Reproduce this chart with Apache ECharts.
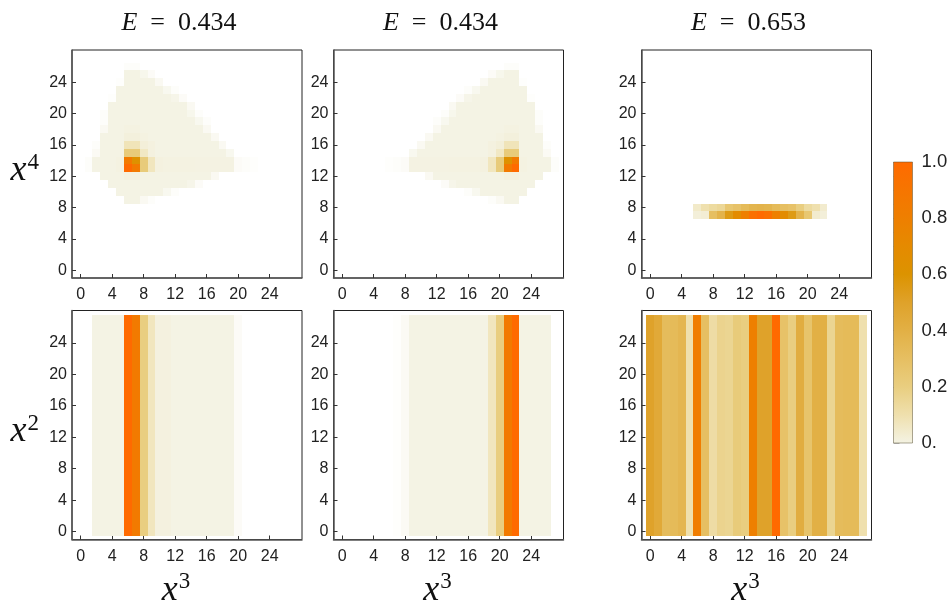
<!DOCTYPE html>
<html><head><meta charset="utf-8">
<script src="https://cdn.jsdelivr.net/npm/echarts@6/dist/echarts.min.js"></script>
<style>html,body{margin:0;padding:0;background:#fff}#c{width:951px;height:602px}</style>
</head><body><div id="c"></div>
<script>
var titles = ['0.434', '0.434', '0.653'];
var tickValues = [0, 4, 8, 12, 16, 20, 24];
var scaleLevels = [-0.1, 0, 0.1, 0.2, 0.3, 0.4, 0.5, 0.6, 0.7, 0.8, 0.9, 1];
var scaleColors = ['#ffffff', '#f4f3e4', '#efe0ae', '#e9ce80', '#e6bf62', '#e2b045', '#dfa22a', '#dc9300', '#e58a00', '#ee7f00', '#f67500', '#ff6a00'];
var barTicks = { 0: '0.', 0.2: '0.2', 0.4: '0.4', 0.6: '0.6', 0.8: '0.8', 1: '1.0' };

// rows: [x4 index, first x3 index, values...]
var rowsA = [
 [26, 6, -.08, -.08],
 [25, 6, 0, 0, -.03, -.07],
 [24, 5, -.09, 0, 0, 0, 0, -.05],
 [23, 5, 0, 0, 0, 0, 0, 0, -.04, -.08],
 [22, 4, -.09, 0, 0, 0, 0, 0, 0, 0, -.02, -.07],
 [21, 4, 0, 0, 0, 0, 0, 0, 0, 0, 0, 0, -.05],
 [20, 3, -.08, 0, 0, 0, 0, 0, 0, 0, 0, 0, 0, -.03, -.08],
 [19, 3, -.08, 0, 0, 0, 0, 0, 0, 0, 0, 0, 0, 0, -.04, -.08],
 [18, 3, -.05, 0, 0, .005, .005, 0, 0, 0, 0, 0, 0, 0, 0, -.05],
 [17, 3, 0, 0, 0, .015, .015, .005, 0, 0, 0, 0, 0, 0, 0, 0, -.05],
 [16, 2, -.08, 0, 0, 0, .08, .08, .02, .01, 0, 0, 0, 0, 0, 0, 0, 0, -.05],
 [15, 2, -.06, 0, 0, 0, .22, .22, .06, .01, 0, 0, 0, 0, 0, 0, 0, 0, 0, -.04],
 [14, 1, -.08, 0, 0, 0, .005, .85, .62, .22, .07, .01, .005, .005, .005, .005, .004, .004, .004, .004, .004, -.07, -.08, -.09],
 [13, 1, -.08, 0, 0, 0, .005, 1, .85, .22, .07, .01, .005, .005, .005, .005, .004, .004, .004, .004, .004, -.07, -.08, -.09],
 [12, 3, 0, 0, 0, .01, .01, 0, 0, 0, 0, 0, 0, 0, 0, 0, -.05],
 [11, 4, 0, 0, 0, 0, 0, 0, 0, 0, 0, 0, -.02, -.07],
 [10, 5, 0, 0, 0, 0, 0, 0, -.04, -.08],
 [9, 6, 0, 0, -.05, -.08]
];
var rowsB = [
 [26, 21, -.08, -.08],
 [25, 19, -.07, -.03, 0, 0],
 [24, 18, -.05, 0, 0, 0, 0, -.09],
 [23, 16, -.08, -.04, 0, 0, 0, 0, 0, 0],
 [22, 15, -.07, -.02, 0, 0, 0, 0, 0, 0, 0, -.09],
 [21, 14, -.05, 0, 0, 0, 0, 0, 0, 0, 0, 0, 0],
 [20, 13, -.08, -.03, 0, 0, 0, 0, 0, 0, 0, 0, 0, 0, -.08],
 [19, 12, -.08, -.04, 0, 0, 0, 0, 0, 0, 0, 0, 0, 0, 0, -.08],
 [18, 12, -.05, 0, 0, 0, 0, 0, 0, 0, 0, .005, .005, 0, 0, -.05],
 [17, 11, -.05, 0, 0, 0, 0, 0, 0, 0, 0, .005, .015, .015, 0, 0, 0],
 [16, 10, -.05, 0, 0, 0, 0, 0, 0, 0, 0, .01, .02, .08, .08, 0, 0, 0, -.08],
 [15, 9, -.04, 0, 0, 0, 0, 0, 0, 0, 0, 0, .01, .06, .22, .22, 0, 0, 0, -.06],
 [14, 6, -.09, -.08, -.07, .004, .004, .004, .004, .004, .005, .005, .005, .005, .01, .07, .22, .62, .85, .005, 0, 0, 0, -.08],
 [13, 6, -.09, -.08, -.07, .004, .004, .004, .004, .004, .005, .005, .005, .005, .01, .07, .22, .85, 1, .005, 0, 0, 0, -.08],
 [12, 11, -.05, 0, 0, 0, 0, 0, 0, 0, 0, 0, .01, .01, 0, 0, 0],
 [11, 13, -.07, -.02, 0, 0, 0, 0, 0, 0, 0, 0, 0, 0],
 [10, 16, -.08, -.04, 0, 0, 0, 0, 0, 0],
 [9, 19, -.08, -.05, 0, 0]
];
var rowsC = [
 [8, 6, .05, .1, .13, .15, .25, .28, .33, .37, .38, .37, .33, .3, .28, .2, .13, .1, .04],
 [7, 6, .02, .03, .3, .38, .55, .68, .8, .95, 1, .95, .8, .68, .55, .38, .25, .04, .02]
];
// stripes: [first x3 index, values...] constant along x2
var stripesD = [2, 0, 0, 0, 0, 1, .85, .2, .07, .01, .01, 0, 0, 0, 0, 0, 0, 0, 0, -.07];
var stripesE = [7, -.09, -.06, 0, 0, 0, 0, 0, 0, 0, 0, 0, 0, .07, .2, .85, 1, 0, 0, 0, 0];
var stripesF = [0, .5, .45, .32, .33, .36, .1, .82, .3, .12, .17, .16, .22, .2, .8, .5, .5, 1, .28, .2, .42, .27, .4, .4, .16, .32, .33, .33, .1];

function fromRows(rows) {
  var out = [];
  rows.forEach(function (r) {
    for (var k = 2; k < r.length; k++) out.push([r[1] + k - 2, r[0], r[k]]);
  });
  return out;
}
function fromStripes(s) {
  var out = [];
  for (var k = 1; k < s.length; k++)
    for (var j = 0; j < 28; j++) out.push([s[0] + k - 1, j, s[k]]);
  return out;
}
var panels = [
  { left: 72, top: 50, data: fromRows(rowsA), yName: '4', title: 0 },
  { left: 333.5, top: 50, data: fromRows(rowsB), title: 1 },
  { left: 641.5, top: 50, data: fromRows(rowsC), title: 2 },
  { left: 72, top: 310.5, data: fromStripes(stripesD), yName: '2', xName: true },
  { left: 333.5, top: 310.5, data: fromStripes(stripesE), xName: true },
  { left: 641.5, top: 310.5, data: fromStripes(stripesF), xName: true }
];

var mathRich = {
  i: { fontFamily: 'Liberation Serif', fontStyle: 'italic', fontSize: 36, color: '#111', lineHeight: 40 },
  s: { fontFamily: 'Liberation Serif', fontSize: 23, color: '#111', lineHeight: 40, verticalAlign: 'top', padding: [0, 0, 15, 1] }
};
var W = 230, H = 229;
var grids = [], xAxes = [], yAxes = [], series = [], titleOpts = [];

function cell(params, api) {
  var a = api.coord([api.value(0) - 0.5, api.value(1) + 0.5]);
  var b = api.coord([api.value(0) + 0.5, api.value(1) - 0.5]);
  var x0 = Math.round(a[0]), y0 = Math.round(a[1]), x1 = Math.round(b[0]), y1 = Math.round(b[1]);
  return {
    type: 'rect',
    shape: { x: x0, y: y0, width: x1 - x0, height: y1 - y0 },
    style: { fill: api.visual('color') }
  };
}
var tickStyle = { color: '#333', width: 1 };
panels.forEach(function (p, n) {
  grids.push({ left: p.left, top: p.top, width: W, height: H - (n < 3 ? 1 : 0), show: true, borderColor: '#222', borderWidth: 1, backgroundColor: '#fff', outerBoundsMode: 'none' });
  xAxes.push({
    type: 'value', gridIndex: n, min: -1.1, max: 28.1, splitLine: { show: false },
    axisLine: { show: true, onZero: false, lineStyle: { color: '#555', width: 1.5 } },
    axisTick: { show: true, inside: true, length: 4, customValues: tickValues, lineStyle: tickStyle },
    axisLabel: { customValues: tickValues, showMinLabel: true, showMaxLabel: true, margin: 9, fontFamily: 'Liberation Sans', fontSize: 16, color: '#222' },
    name: p.xName ? '{i|x}{s|3}' : '', nameLocation: 'middle', nameGap: 31,
    nameTextStyle: { rich: mathRich, padding: [0, 22, 0, 0] }
  });
  yAxes.push({
    type: 'value', gridIndex: n, min: -1, max: 28.1, splitLine: { show: false },
    axisLine: { show: true, onZero: false, lineStyle: { color: '#555', width: 1.5 } },
    axisTick: { show: true, inside: true, length: 4, customValues: tickValues, lineStyle: tickStyle },
    axisLabel: { customValues: tickValues, margin: 5, fontFamily: 'Liberation Sans', fontSize: 16, color: '#222' },
    name: p.yName ? '{i|x}{s|' + p.yName + '}' : '', nameLocation: 'middle', nameGap: 33, nameRotate: 0,
    nameTextStyle: { rich: mathRich, padding: [14, 0, 0, 0] }
  });
  series.push({
    type: 'custom', xAxisIndex: n, yAxisIndex: n, data: p.data, renderItem: cell,
    encode: { x: 0, y: 1 }, silent: true, animation: false, clip: true
  });
  if (p.title !== undefined) {
    titleOpts.push({
      text: '{e|E}{n|  =  ' + titles[p.title] + '}', left: p.left + W / 2 - 13, top: 5, textAlign: 'center',
      textStyle: { rich: {
        e: { fontFamily: 'Liberation Serif', fontStyle: 'italic', fontWeight: 'normal', fontSize: 26, color: '#111' },
        n: { fontFamily: 'Liberation Serif', fontWeight: 'normal', fontSize: 26, color: '#111' }
      } }
    });
  }
});

// colour bar
var barIndex = panels.length;
grids.push({ left: 893.5, top: 162, width: 19, height: 281, outerBoundsMode: 'none' });
xAxes.push({ type: 'value', gridIndex: barIndex, min: 0, max: 1, show: false });
yAxes.push({
  type: 'value', gridIndex: barIndex, position: 'right', min: 0, max: 1, interval: 0.2,
  splitLine: { show: false }, axisLine: { show: false },
  axisTick: { show: true, length: 6, lineStyle: { color: '#bbb' } },
  minorTick: { show: true, splitNumber: 4, length: 3, lineStyle: { color: '#ccc' } },
  axisLabel: { margin: 9, fontFamily: 'Liberation Sans', fontSize: 18.5, color: '#222', showMinLabel: true, showMaxLabel: true,
    formatter: function (v) { return barTicks[v]; } }
});
var barStops = [];
scaleLevels.forEach(function (l, i) { if (l >= 0) barStops.push({ offset: 1 - l, color: scaleColors[i] }); });
series.push({
  type: 'custom', xAxisIndex: barIndex, yAxisIndex: barIndex, data: [[0, 1]], silent: true, animation: false,
  encode: { x: 0, y: 1 },
  renderItem: function (params, api) {
    var a = api.coord([0, 1]), b = api.coord([1, 0]);
    return { type: 'rect', shape: { x: a[0], y: a[1], width: b[0] - a[0], height: b[1] - a[1] },
      style: { fill: new echarts.graphic.LinearGradient(0, 0, 0, 1, barStops), stroke: 'rgba(90,80,50,0.5)', lineWidth: 1 } };
  }
});

var chart = echarts.init(document.getElementById('c'), null, { renderer: 'canvas' });
chart.setOption({
  animation: false, backgroundColor: '#fff',
  title: titleOpts, grid: grids, xAxis: xAxes, yAxis: yAxes, series: series,
  visualMap: { show: false, type: 'continuous', min: -0.1, max: 1, dimension: 2, seriesIndex: [0, 1, 2, 3, 4, 5], inRange: { color: scaleColors } }
});
</script></body></html>
